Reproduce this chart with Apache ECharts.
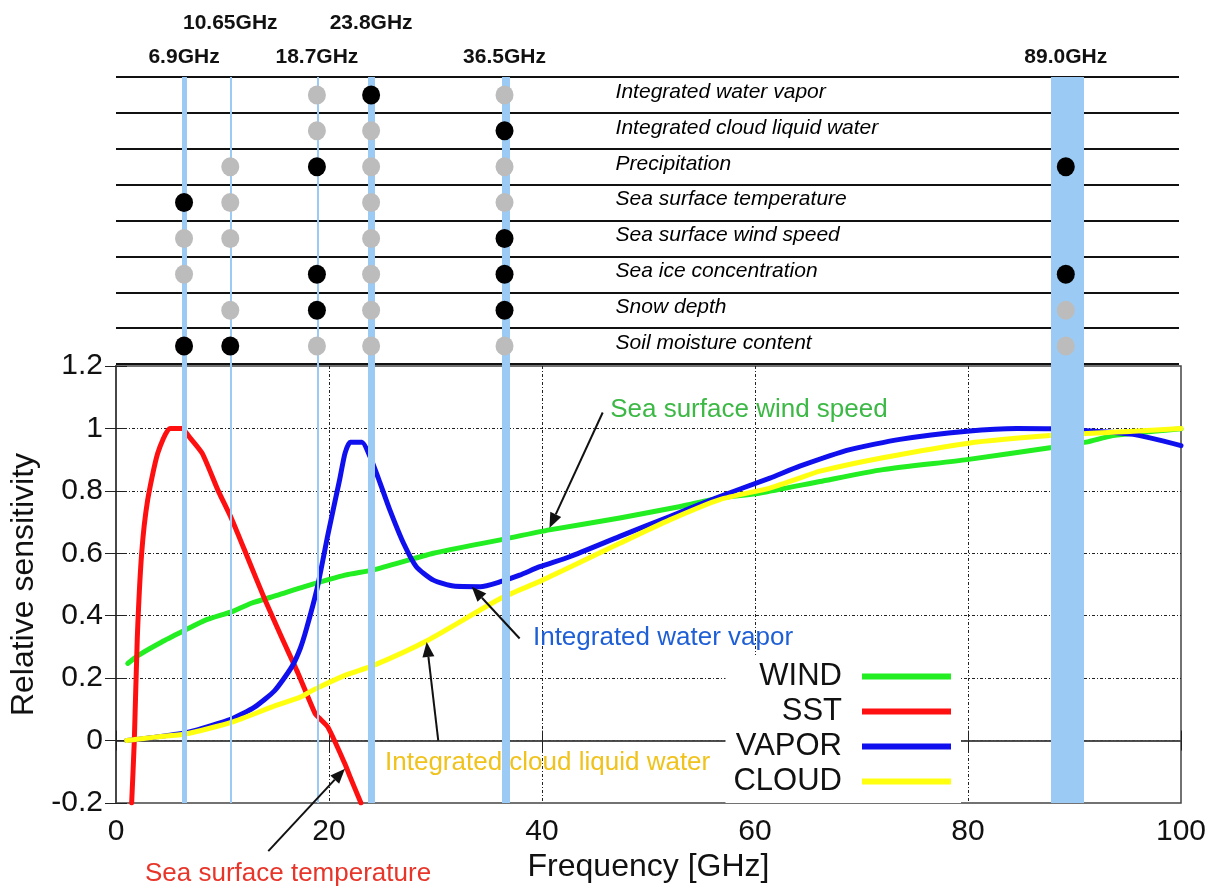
<!DOCTYPE html>
<html>
<head>
<meta charset="utf-8">
<script src="https://cdn.jsdelivr.net/npm/echarts@6/dist/echarts.min.js"></script>
<style>
html,body{margin:0;padding:0;background:#fff;}
#chart{width:1224px;height:891px;}
</style>
</head>
<body>
<div id="chart"></div>
<script>
// ---------------- data ----------------
const seriesNames = ['WIND', 'SST', 'VAPOR', 'CLOUD'];

const windData = [[1.1,0.247],[2.1,0.273],[4.3,0.316],[6.5,0.354],[8.4,0.386],[10.9,0.413],[12.7,0.44],[15.2,0.466],[17.7,0.493],[21.5,0.53],[24.2,0.547],[29.8,0.6],[36.1,0.643],[40.7,0.675],[47.3,0.713],[53.0,0.75],[56.7,0.777],[60.5,0.793],[66.1,0.83],[72.0,0.868],[79.9,0.9],[87.7,0.938],[91.1,0.956],[93.6,0.977],[100,0.999]];

const sstData = [[1.47,-0.2],[1.72,0],[2.0,0.33],[2.41,0.6],[2.97,0.77],[3.91,0.92],[5.07,1.0],[6.17,1.0],[6.95,0.97],[8.1,0.92],[9.6,0.8],[10.86,0.71],[12.43,0.58],[14.0,0.45],[15.56,0.33],[17.1,0.215],[18.7,0.086],[19.15,0.07],[19.9,0.043],[21.5,-0.075],[22.0,-0.118],[23.0,-0.2]];

const vaporData = [[1.0,0.0],[3.7,0.011],[6.8,0.027],[10.9,0.07],[13.0,0.107],[14.9,0.16],[16.5,0.236],[17.3,0.295],[17.9,0.36],[18.9,0.49],[19.9,0.66],[21.0,0.836],[21.5,0.92],[22.0,0.956],[23.1,0.956],[23.85,0.91],[24.8,0.825],[25.7,0.74],[27.0,0.632],[28.2,0.557],[29.8,0.514],[31.7,0.495],[34.2,0.493],[36.1,0.509],[37.9,0.53],[39.8,0.557],[42.6,0.589],[47.3,0.654],[52.0,0.718],[56.7,0.782],[61.4,0.841],[64.2,0.879],[68.9,0.932],[73.6,0.965],[79.9,0.991],[84.6,1.0],[87.7,0.999],[95.5,0.981],[100,0.945]];

const cloudData = [[1.0,0.0],[3.7,0.011],[6.5,0.021],[10.9,0.059],[14.6,0.107],[17.3,0.139],[18.4,0.16],[21.5,0.209],[24.2,0.241],[29.2,0.32],[36.1,0.455],[39.8,0.51],[42.6,0.555],[47.3,0.632],[52.0,0.707],[56.7,0.772],[61.4,0.809],[64.2,0.841],[66.1,0.863],[72.0,0.906],[79.9,0.952],[87.7,0.977],[95.5,0.991],[100,1.0]];

// AMSR channels: label and position as drawn on the frequency axis
const channelLabels = ['6.9GHz', '10.65GHz', '18.7GHz', '23.8GHz', '36.5GHz', '89.0GHz'];
const channelPos = [6.4, 10.75, 18.9, 24.0, 36.55, 89.35];
const channelLabelTier = [0, 1, 0, 1, 0, 0]; // 1 = upper row of header

// Retrieved products (table rows)
const products = ['Integrated water vapor', 'Integrated cloud liquid water', 'Precipitation', 'Sea surface temperature', 'Sea surface wind speed', 'Sea ice concentration', 'Snow depth', 'Soil moisture content'];
// 2 = main channel (black dot), 1 = auxiliary channel (grey dot), 0 = not used
const channelUse = [
  [0,0,1,2,1,0],
  [0,0,1,1,2,0],
  [0,1,2,1,1,2],
  [2,1,0,1,1,0],
  [1,1,0,1,2,0],
  [1,0,2,1,2,2],
  [0,1,2,1,2,1],
  [2,2,1,1,1,1]
];

// Annotations: text anchor (data coords) and arrow from -> to
const annotations = [
  {text: 'Sea surface wind speed', color: '#3cb845', at: [46.4, 1.061], from: [45.7, 1.051], to: [40.7, 0.681]},
  {text: 'Integrated water vapor', color: '#1f5fd6', at: [39.15, 0.328], from: [37.9, 0.327], to: [33.4, 0.493]},
  {text: 'Integrated cloud liquid water', color: '#f0c21c', at: [25.26, -0.071], from: [30.26, 0.0], to: [29.17, 0.316]},
  {text: 'Sea surface temperature', color: '#e8352a', at: [2.72, -0.428], from: [14.3, -0.354], to: [21.5, -0.09]}
];

// ---------------- chart ----------------
const FONT = '"Liberation Sans", Arial, sans-serif';
const colors = {WIND: '#22ee22', SST: '#ff1010', VAPOR: '#1010ee', CLOUD: '#ffff10'};
const bandWidths = [5, 2, 2, 7, 8, 33];

const chart = echarts.init(document.getElementById('chart'), null, {renderer: 'canvas'});

const blackDots = [], greyDots = [];
channelUse.forEach((row, r) => row.forEach((u, c) => {
  if (u === 2) blackDots.push([channelPos[c], r + 0.5]);
  else if (u === 1) greyDots.push([channelPos[c], r + 0.5]);
}));

function lineSeries(name, data) {
  return {
    name, type: 'line', data, xAxisIndex: 0, yAxisIndex: 0,
    showSymbol: false, symbol: 'none', smooth: 0.2,
    lineStyle: {width: 5, color: colors[name], join: 'round', cap: 'round'}, itemStyle: {color: colors[name]},
    z: 2, silent: true, animation: false
  };
}

const dotted = {type: [3, 2, 1, 2], color: '#222', width: 1};

const option = {
  backgroundColor: '#fff',
  animation: false,
  grid: [
    {left: 116, right: 43, top: 366, bottom: 88, show: true, borderColor: '#444', borderWidth: 1.5, backgroundColor: 'transparent'},
    {left: 116, right: 45, top: 77, height: 287},
    {left: 116, right: 43, top: 77, bottom: 88}
  ],
  xAxis: [
    {gridIndex: 0, type: 'value', min: 0, max: 100, interval: 20,
     name: 'Frequency [GHz]', nameLocation: 'middle', nameGap: 48,
     nameTextStyle: {fontSize: 32, color: '#111', fontFamily: FONT},
     axisLine: {show: true, lineStyle: {color: '#444', width: 1.5}},
     axisTick: {inside: true, length: 10, lineStyle: {color: '#222'}},
     axisLabel: {fontSize: 30, color: '#111', fontFamily: FONT, margin: 14},
     splitLine: {show: true, lineStyle: dotted, showMinLine: false, showMaxLine: false}},
    {gridIndex: 0, type: 'value', min: 0, max: 100, interval: 20, position: 'top',
     axisLine: {show: true, lineStyle: {color: '#444', width: 1.5}},
     axisTick: {inside: true, length: 10, lineStyle: {color: '#222'}},
     axisLabel: {show: false}, splitLine: {show: false}},
    {gridIndex: 1, type: 'value', min: 0, max: 100, show: false},
    {gridIndex: 2, type: 'value', min: 0, max: 100, show: false}
  ],
  yAxis: [
    {gridIndex: 0, type: 'value', min: -0.2, max: 1.2, interval: 0.2,
     name: 'Relative sensitivity', nameLocation: 'middle', nameGap: 66, nameRotate: 90,
     nameTextStyle: {fontSize: 32, color: '#111', fontFamily: FONT},
     axisLine: {show: true, lineStyle: {color: '#444', width: 1.5}},
     axisTick: {inside: true, length: 11, lineStyle: {color: '#222'}},
     axisLabel: {fontSize: 30, color: '#111', fontFamily: FONT, margin: 13,
       formatter: v => String(Math.round(v * 10) / 10)},
     splitLine: {show: true, lineStyle: dotted, showMinLine: false, showMaxLine: false}},
    {gridIndex: 0, type: 'value', min: -0.2, max: 1.2, interval: 0.2, position: 'right',
     axisLine: {show: true, lineStyle: {color: '#444', width: 1.5}},
     axisTick: {inside: true, length: 11, lineStyle: {color: '#222'}},
     axisLabel: {show: false}, splitLine: {show: false}},
    {gridIndex: 1, type: 'value', min: 0, max: 8, interval: 1, inverse: true,
     axisLine: {show: false}, axisTick: {show: false}, axisLabel: {show: false},
     splitLine: {show: true, lineStyle: {color: '#111', width: 2}}},
    {gridIndex: 2, type: 'value', min: 0, max: 1, show: false}
  ],
  legend: {
    data: seriesNames, orient: 'vertical', align: 'right',
    right: 263, top: 655, padding: [6, 10, 6, 8],
    backgroundColor: '#fff', icon: 'rect', itemWidth: 89, itemHeight: 6, itemGap: 4,
    textStyle: {fontSize: 31, color: '#111', fontFamily: FONT, padding: [0, 15, 0, 0]},
    selectedMode: false, z: 6
  },
  series: [
    lineSeries('WIND', windData),
    lineSeries('SST', sstData),
    lineSeries('VAPOR', vaporData),
    lineSeries('CLOUD', cloudData),
    {
      name: 'bands', type: 'line', data: [], xAxisIndex: 3, yAxisIndex: 3, z: 3, silent: true,
      markLine: {
        silent: true, symbol: ['none', 'none'], label: {show: false}, animation: false,
        emphasis: {disabled: true},
        data: channelPos.map((p, i) => ({xAxis: p, lineStyle: {color: '#9bcbf4', width: bandWidths[i], type: 'solid', opacity: 1}}))
      }
    },
    {name: 'main', type: 'scatter', xAxisIndex: 2, yAxisIndex: 2, data: blackDots,
     symbol: 'circle', symbolSize: [18, 19], itemStyle: {color: '#000', opacity: 1}, z: 5, silent: true},
    {name: 'aux', type: 'scatter', xAxisIndex: 2, yAxisIndex: 2, data: greyDots,
     symbol: 'circle', symbolSize: [18, 19], itemStyle: {color: '#bcbcbc', opacity: 1}, z: 5, silent: true},
    {name: 'rows', type: 'scatter', xAxisIndex: 2, yAxisIndex: 2, symbolSize: 0, z: 5, silent: true,
     itemStyle: {opacity: 1},
     data: products.map((p, i) => ({value: [47, i + 0.5], name: p})),
     label: {show: true, position: 'inside', align: 'left', verticalAlign: 'middle', offset: [0, -3],
       formatter: p => p.name, fontSize: 21, fontStyle: 'italic', color: '#000', fontFamily: FONT}}
  ]
};

chart.setOption(option);

// ---- annotations & header labels (positioned through the axes) ----
const graphics = [];
channelLabels.forEach((lab, i) => {
  const pt = chart.convertToPixel({xAxisIndex: 2, yAxisIndex: 2}, [channelPos[i], channelLabelTier[i] ? -1.5 : -0.55]);
  graphics.push({type: 'text', z: 10, silent: true, style: {
    x: pt[0], y: pt[1], text: lab, fill: '#111',
    font: 'bold 21px ' + FONT, textAlign: 'center', textVerticalAlign: 'middle'}});
});
annotations.forEach(a => {
  const p0 = chart.convertToPixel({xAxisIndex: 0, yAxisIndex: 0}, a.from);
  const p1 = chart.convertToPixel({xAxisIndex: 0, yAxisIndex: 0}, a.to);
  const t = chart.convertToPixel({xAxisIndex: 0, yAxisIndex: 0}, a.at);
  const dx = p1[0] - p0[0], dy = p1[1] - p0[1];
  const len = Math.sqrt(dx * dx + dy * dy), ux = dx / len, uy = dy / len;
  const L = 15, W = 6;
  const bx = p1[0] - ux * L, by = p1[1] - uy * L;
  graphics.push({type: 'line', z: 9, silent: true,
    shape: {x1: p0[0], y1: p0[1], x2: bx, y2: by}, style: {stroke: '#111', lineWidth: 2}});
  graphics.push({type: 'polygon', z: 9, silent: true,
    shape: {points: [[p1[0], p1[1]], [bx - uy * W, by + ux * W], [bx + uy * W, by - ux * W]]},
    style: {fill: '#111'}});
  graphics.push({type: 'text', z: 9, silent: true, style: {
    x: t[0], y: t[1], text: a.text, fill: a.color,
    font: '26px ' + FONT, textAlign: 'left', textVerticalAlign: 'middle'}});
});
chart.setOption({graphic: graphics});
</script>
</body>
</html>
